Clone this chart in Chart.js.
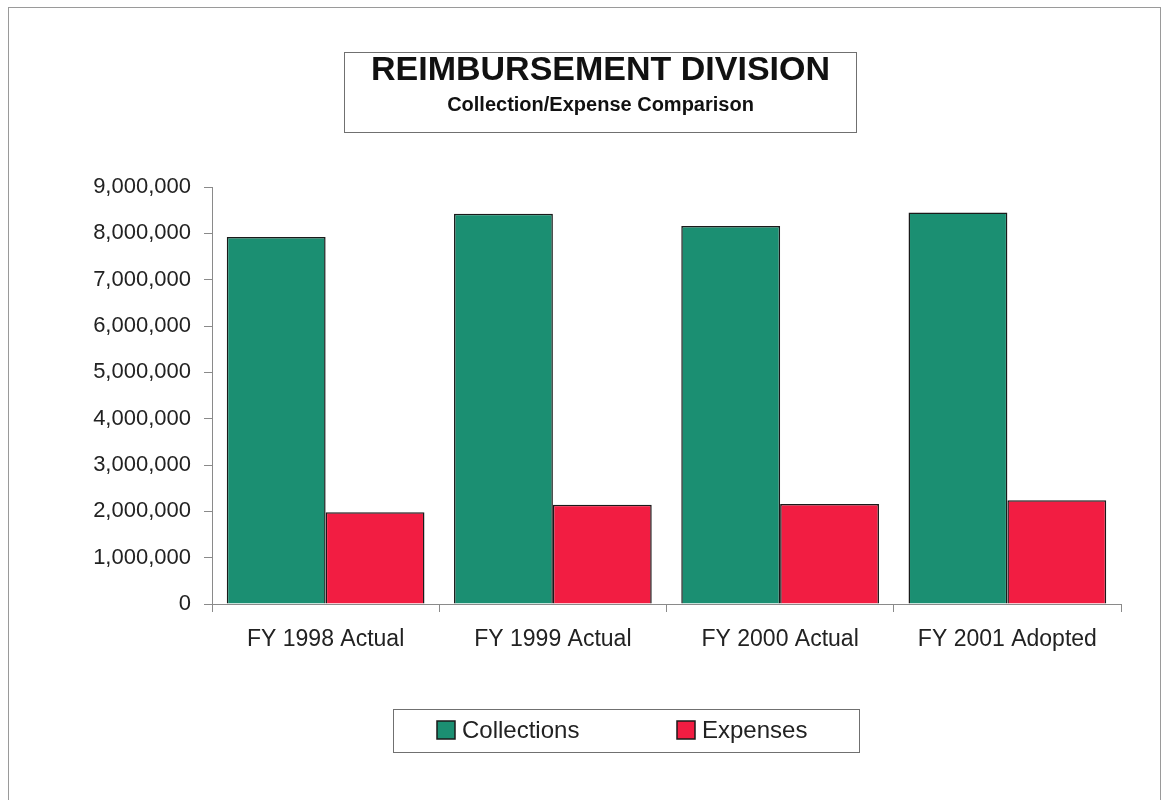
<!DOCTYPE html>
<html>
<head>
<meta charset="utf-8">
<script src="https://cdn.jsdelivr.net/npm/chart.js@4/dist/chart.umd.min.js"></script>
<style>
  body { margin: 0; background: #fff; }
  canvas { display: block; }
</style>
</head>
<body>
<canvas id="barChart" width="1164" height="800"></canvas>
<script>
// chart values
var years       = ['FY 1998 Actual', 'FY 1999 Actual', 'FY 2000 Actual', 'FY 2001 Adopted']
var collections = [7920000, 8420000, 8160000, 8450000]
var expenses    = [1980000, 2140000, 2160000, 2240000]
var yTicks      = [0, 1000000, 2000000, 3000000, 4000000, 5000000, 6000000, 7000000, 8000000, 9000000]

var fontFace  = "'Liberation Sans', Arial, sans-serif"
var textColor = '#222222'
var axisColor = '#8a8a8a'

// page frame, title box and legend box (drawn after chart)
var framePlugin = {
  id: 'frame',
  afterDraw: function(chart) {
    var ctx = chart.ctx
    ctx.save()
    // outer frame
    ctx.strokeStyle = '#9a9a9a'
    ctx.lineWidth = 1
    ctx.strokeRect(8.5, 7.5, 1152, 800)

    // box round the title
    ctx.strokeStyle = '#707070'
    ctx.strokeRect(344.5, 52.5, 512, 80)

    // legend
    ctx.strokeRect(393.5, 709.5, 466, 43)
    var items = chart.data.datasets
    var xs = [437, 677]
    ctx.font = '24px ' + fontFace
    ctx.textBaseline = 'middle'
    ctx.textAlign = 'left'
    for (var i = 0; i < items.length; i++) {
      ctx.fillStyle = items[i].backgroundColor
      ctx.fillRect(xs[i], 721, 18, 18)
      ctx.strokeStyle = '#1a1a1a'
      ctx.lineWidth = 1.5
      ctx.strokeRect(xs[i], 721, 18, 18)
      ctx.fillStyle = textColor
      ctx.fillText(items[i].label, xs[i] + 25, 731)
    }
    ctx.restore()
  }
}

var barChartCanvas = document.getElementById('barChart').getContext('2d')

var barChart = new Chart(barChartCanvas, {
  type: 'bar',
  data: {
    labels: years,
    datasets: [
      {
        label          : 'Collections',
        data           : collections,
        backgroundColor: '#1b8f72',
        borderColor    : '#1a1a1a',
        borderWidth    : 1.5
      },
      {
        label          : 'Expenses',
        data           : expenses,
        backgroundColor: '#f21d42',
        borderColor    : '#1a1a1a',
        borderWidth    : 1.5
      }
    ]
  },
  options: {
    responsive: false,
    animation: false,
    layout: {
      padding: { top: 52, left: 80, right: 43, bottom: 0 }
    },
    datasets: {
      bar: { categoryPercentage: 0.87, barPercentage: 1.0 }
    },
    plugins: {
      legend: { display: false },
      tooltip: { enabled: false },
      title: {
        display: true,
        text: 'REIMBURSEMENT DIVISION',
        color: '#111',
        font: { family: fontFace, size: 34, weight: 'bold', lineHeight: 1.0 },
        padding: { top: 2, bottom: 0 }
      },
      subtitle: {
        display: true,
        text: 'Collection/Expense Comparison',
        color: '#111',
        font: { family: fontFace, size: 20, weight: 'bold', lineHeight: 1.2 },
        padding: { top: 5, bottom: 70 }
      }
    },
    scales: {
      x: {
        afterFit: function(scale) { scale.height = 196 },
        grid: {
          offset: true,
          drawOnChartArea: false,
          tickLength: 8,
          color: axisColor
        },
        border: { color: axisColor, width: 1 },
        ticks: {
          color: textColor,
          padding: 14,
          font: { family: fontFace, size: 23 }
        }
      },
      y: {
        min: 0,
        max: 9000000,
        afterFit: function(scale) { scale.width = 132 },
        afterBuildTicks: function(scale) {
          scale.ticks = yTicks.map(function(v) { return { value: v } })
        },
        grid: {
          drawOnChartArea: false,
          tickLength: 8,
          color: axisColor
        },
        border: { color: axisColor, width: 1 },
        ticks: {
          color: textColor,
          padding: 13,
          font: { family: fontFace, size: 22 },
          callback: function(value) { return value.toLocaleString('en-US') }
        }
      }
    }
  },
  plugins: [framePlugin]
})
</script>
</body>
</html>
